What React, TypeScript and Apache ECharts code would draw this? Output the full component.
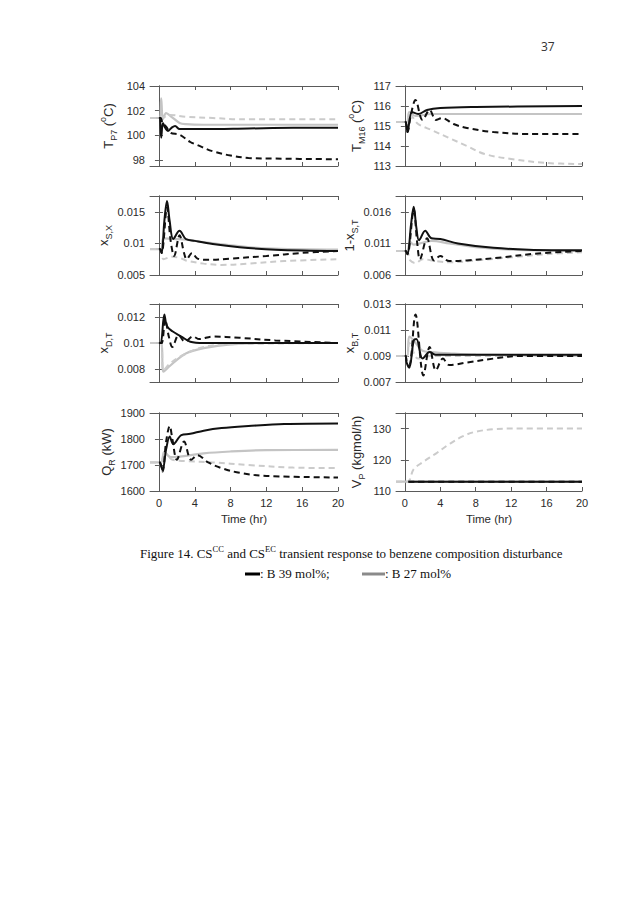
import React, { useEffect, useRef } from "react";
import * as echarts from "echarts";

type P = [number, number][];

const timeTicks = [0, 4, 8, 12, 16, 20];
const seriesNames = ["B 39 mol% (CC)", "B 39 mol% (EC)", "B 27 mol% (CC)", "B 27 mol% (EC)"];

// Panel 1: T_P7 (°C)
const tp7Ticks = [98, 100, 102, 104];
const tp7B39Solid: P = [[0,101.4],[0.1,101.4],[0.25,99.8],[0.45,101.0],[0.7,100.6],[1.0,100.35],[1.4,100.6],[1.8,100.75],[2.3,100.5],[3,100.5],[5,100.5],[10,100.55],[15,100.6],[20,100.6]];
const tp7B39Dashed: P = [[0,101.4],[0.2,101.4],[0.4,101.0],[0.8,100.7],[1.3,100.2],[2.3,100.05],[3.5,99.45],[4.3,99.2],[6,98.7],[8,98.35],[10,98.15],[13,98.1],[20,98.05]];
const tp7B27Solid: P = [[-1,101.4],[0.1,101.4],[0.25,103.0],[0.45,101.3],[0.8,101.8],[1.4,101.5],[2.3,101.0],[3,100.9],[5,100.85],[20,100.85]];
const tp7B27Dashed: P = [[-1,101.4],[0.3,101.4],[1.2,101.65],[3,101.5],[6,101.4],[9,101.3],[20,101.3]];

// Panel 2: x_S,X
const xsxTicks = [0.005, 0.01, 0.015];
const xsxB39Solid: P = [[0,0.0091],[0.1,0.0091],[0.3,0.0085],[0.6,0.0135],[0.9,0.0167],[1.2,0.0135],[1.6,0.0107],[2.3,0.012],[3,0.0107],[4,0.0104],[6,0.0099],[9,0.0094],[13,0.009],[20,0.0088]];
const xsxB39Dashed: P = [[0,0.0091],[0.1,0.0091],[0.3,0.0085],[0.9,0.0157],[1.3,0.0105],[1.7,0.008],[2.3,0.0113],[2.8,0.0085],[3.1,0.0075],[3.7,0.0085],[4.3,0.0076],[5.5,0.0074],[8,0.0076],[12,0.008],[16,0.0085],[20,0.0088]];
const xsxB27Solid: P = [[-1,0.0091],[0.2,0.0091],[0.5,0.0108],[1.5,0.0107],[3,0.0106],[5,0.0102],[8,0.0097],[12,0.0092],[20,0.009]];
const xsxB27Dashed: P = [[-1,0.0091],[0.2,0.0091],[0.5,0.0075],[1.5,0.0079],[2.5,0.0076],[3,0.0073],[5,0.0068],[7,0.0066],[10,0.0068],[14,0.0072],[20,0.0075]];

// Panel 3: x_D,T
const xdtTicks = [0.008, 0.01, 0.012];
const xdtB39Solid: P = [[0,0.01],[0.2,0.01],[0.6,0.0122],[0.9,0.0113],[1.5,0.0109],[2.5,0.0105],[3.5,0.0101],[5,0.01],[20,0.01]];
const xdtB39Dashed: P = [[0,0.01],[0.3,0.01],[0.7,0.0118],[1.1,0.0105],[1.5,0.0097],[2.2,0.0106],[2.9,0.0101],[3.8,0.0105],[4.5,0.0103],[6,0.0105],[9,0.0104],[13,0.0102],[20,0.01]];
const xdtB27Solid: P = [[-1,0.01],[0.2,0.01],[0.5,0.0078],[1,0.0081],[2,0.0087],[3,0.0092],[5,0.0096],[8,0.0099],[12,0.01],[20,0.01]];
const xdtB27Dashed: P = [[-1,0.01],[0.2,0.01],[0.5,0.0079],[1.2,0.0084],[2.5,0.009],[5,0.0097],[8,0.0099],[20,0.01]];

// Panel 4: Q_R (kW)
const qrTicks = [1600, 1700, 1800, 1900];
const qrB39Solid: P = [[0,1710],[0.1,1710],[0.4,1680],[0.8,1760],[1.2,1810],[1.6,1780],[2.5,1815],[3.5,1820],[5,1832],[7,1842],[10,1850],[14,1858],[20,1860]];
const qrB39Dashed: P = [[0,1710],[0.1,1710],[0.4,1675],[0.8,1790],[1.2,1850],[1.5,1800],[2,1720],[2.8,1790],[3.6,1720],[4.3,1738],[5.5,1710],[7,1688],[9,1670],[12,1658],[20,1652]];
const qrB27Solid: P = [[-1,1710],[0.2,1710],[0.6,1750],[1.3,1730],[3,1735],[5,1745],[8,1752],[12,1757],[20,1758]];
const qrB27Dashed: P = [[-1,1710],[0.2,1710],[0.6,1750],[1.5,1720],[3,1715],[6,1710],[10,1700],[15,1690],[20,1688]];

// Panel 5: T_M16 (°C)
const tm16Ticks = [113, 114, 115, 116, 117];
const tm16B39Solid: P = [[0,115.2],[0.1,115.2],[0.3,114.7],[0.8,115.7],[1.5,115.6],[2.5,115.8],[4,115.9],[8,115.95],[20,116.0]];
const tm16B39Dashed: P = [[0,115.2],[0.1,115.2],[0.3,114.7],[0.7,115.6],[1.2,116.3],[2,115.3],[2.8,115.8],[3.5,115.3],[4.2,115.4],[5.5,115.1],[7,114.9],[10,114.7],[14,114.6],[20,114.6]];
const tm16B27Solid: P = [[-1,115.2],[0.2,115.2],[0.5,115.7],[1.2,115.5],[3,115.6],[20,115.6]];
const tm16B27Dashed: P = [[-1,115.2],[0.2,115.2],[0.5,115.6],[1.5,115.1],[3,114.8],[5,114.4],[7,114.0],[9,113.6],[12,113.35],[16,113.15],[20,113.1]];

// Panel 6: 1-x_S,T
const xstTicks = [0.006, 0.011, 0.016];
const xstB39Solid: P = [[0,0.0098],[0.1,0.0098],[0.3,0.0093],[0.7,0.014],[1.0,0.0168],[1.3,0.0135],[1.6,0.0115],[2.3,0.013],[3,0.0118],[4,0.0117],[6,0.011],[10,0.0103],[14,0.01],[20,0.0099]];
const xstB39Dashed: P = [[0,0.0098],[0.1,0.0098],[0.3,0.0093],[1.0,0.0163],[1.4,0.011],[1.7,0.0085],[2.5,0.0118],[3.3,0.0083],[4,0.009],[5,0.0082],[7,0.0083],[11,0.0088],[15,0.0094],[20,0.0098]];
const xstB27Solid: P = [[-1,0.0098],[0.2,0.0098],[0.6,0.0112],[1,0.0108],[3,0.0114],[5,0.011],[8,0.0104],[12,0.01],[20,0.0098]];
const xstB27Dashed: P = [[-1,0.0098],[0.2,0.0098],[0.6,0.0083],[1.2,0.0079],[2,0.0085],[3.5,0.0082],[5,0.008],[8,0.0083],[12,0.0088],[16,0.0093],[20,0.0096]];

// Panel 7: x_B,T
const xbtTicks = [0.007, 0.009, 0.011, 0.013];
const xbtB39Solid: P = [[0,0.009],[0.1,0.009],[0.2,0.0085],[0.5,0.0081],[1.0,0.0102],[1.3,0.0103],[2,0.0088],[2.8,0.0093],[3.5,0.0091],[6,0.0091],[20,0.0091]];
const xbtB39Dashed: P = [[0,0.009],[0.1,0.009],[0.2,0.0086],[0.5,0.0083],[1.2,0.0122],[2.1,0.0075],[2.8,0.0097],[3.5,0.0079],[4.3,0.0088],[5,0.0083],[7,0.0085],[10,0.0088],[13,0.009],[20,0.009]];
const xbtB27Solid: P = [[-1,0.009],[0.2,0.009],[0.5,0.0105],[1,0.0102],[2,0.0094],[3,0.0093],[5,0.0092],[8,0.0091],[20,0.009]];
const xbtB27Dashed: P = [[-1,0.009],[0.2,0.009],[0.5,0.01],[1.5,0.0088],[3,0.009],[20,0.009]];

// Panel 8: V_P (kgmol/h)
const vpTicks = [110, 120, 130];
const vpB39Solid: P = [[0.4,113],[20,113]];
const vpB39Dashed: P = [[0.4,113],[20,113]];
const vpB27Solid: P = [[-1,113],[20,113]];
const vpB27Dashed: P = [[-1,113],[0.3,113],[1,117],[2,119.2],[3.5,122],[5,125],[6.5,127.5],[8,129],[10,129.8],[12,130],[20,130]];

const SANS = "'Liberation Sans', Arial, sans-serif";
const SERIF = "'Liberation Serif', 'Times New Roman', serif";
const AXIS_COLOR = "#5a5a5a";
const TEXT_COLOR = "#2a2a2a";

const panels = [
  { col: 0, row: 0, name: "{m|T}{s|P7}{m| (}{p|o}{m|C)}", min: 97.5, max: 104, ticks: tp7Ticks, data: [tp7B39Solid, tp7B39Dashed, tp7B27Solid, tp7B27Dashed] },
  { col: 0, row: 1, name: "{m|x}{s|S,X}", min: 0.005, max: 0.0175, ticks: xsxTicks, data: [xsxB39Solid, xsxB39Dashed, xsxB27Solid, xsxB27Dashed] },
  { col: 0, row: 2, name: "{m|x}{s|D,T}", min: 0.007, max: 0.013, ticks: xdtTicks, data: [xdtB39Solid, xdtB39Dashed, xdtB27Solid, xdtB27Dashed] },
  { col: 0, row: 3, name: "{m|Q}{s|R}{m| (kW)}", min: 1600, max: 1900, ticks: qrTicks, data: [qrB39Solid, qrB39Dashed, qrB27Solid, qrB27Dashed] },
  { col: 1, row: 0, name: "{m|T}{s|M16}{m| (}{p|o}{m|C)}", min: 113, max: 117, ticks: tm16Ticks, data: [tm16B39Solid, tm16B39Dashed, tm16B27Solid, tm16B27Dashed] },
  { col: 1, row: 1, name: "{m|1-x}{s|S,T}", min: 0.006, max: 0.0185, ticks: xstTicks, data: [xstB39Solid, xstB39Dashed, xstB27Solid, xstB27Dashed] },
  { col: 1, row: 2, name: "{m|x}{s|B,T}", min: 0.007, max: 0.013, ticks: xbtTicks, data: [xbtB39Solid, xbtB39Dashed, xbtB27Solid, xbtB27Dashed] },
  { col: 1, row: 3, name: "{m|V}{s|P}{m| (kgmol/h)}", min: 110, max: 135, ticks: vpTicks, data: [vpB39Solid, vpB39Dashed, vpB27Solid, vpB27Dashed] },
];

const colLeft = [150, 396];
const colWidth = [188, 186];
const rowTop = [86, 196, 304, 413];
const rowHeight = [80, 79, 78, 78];

const lineStyles = [
  { color: "#111111", width: 2, type: "solid" },
  { color: "#111111", width: 2, type: [6, 4] },
  { color: "#c4c4c4", width: 2.2, type: "solid" },
  { color: "#cbcbcb", width: 2, type: [6, 4] },
];
const drawOrder = [2, 3, 0, 1];

const fmt = (v: number) => String(+v.toFixed(4));

function buildOption() {
  const grid: any[] = [];
  const xAxis: any[] = [];
  const yAxis: any[] = [];
  const series: any[] = [];
  const nameRich = {
    m: { fontSize: 13, lineHeight: 20, fontFamily: SANS, color: TEXT_COLOR },
    s: { fontSize: 9, lineHeight: 9, verticalAlign: "bottom", fontFamily: SANS, color: TEXT_COLOR },
    p: { fontSize: 9, lineHeight: 9, verticalAlign: "top", fontFamily: SANS, color: TEXT_COLOR },
  };
  panels.forEach((pn, i) => {
    grid.push({ left: colLeft[pn.col], top: rowTop[pn.row], width: colWidth[pn.col], height: rowHeight[pn.row], containLabel: false });
    const bottomRow = pn.row === 3;
    const tickCommon = { show: true, inside: true, length: 4, lineStyle: { color: AXIS_COLOR, width: 1 } };
    xAxis.push({
      type: "value", gridIndex: i, min: -1, max: 20, position: "bottom",
      axisLine: { show: true, lineStyle: { color: AXIS_COLOR, width: 1 } },
      axisTick: { ...tickCommon, customValues: timeTicks },
      axisLabel: { show: bottomRow, customValues: timeTicks, color: TEXT_COLOR, fontFamily: SANS, fontSize: 11, margin: 6 },
      splitLine: { show: false },
      name: bottomRow ? "Time (hr)" : "",
      nameLocation: "middle", nameGap: 22,
      nameTextStyle: { color: TEXT_COLOR, fontFamily: SANS, fontSize: 11.5 },
    });
    xAxis.push({
      type: "value", gridIndex: i, min: -1, max: 20, position: "top",
      axisLine: { show: true, lineStyle: { color: AXIS_COLOR, width: 1 } },
      axisTick: { ...tickCommon, customValues: timeTicks },
      axisLabel: { show: false },
      splitLine: { show: false },
    });
    yAxis.push({
      type: "value", gridIndex: i, min: pn.min, max: pn.max, position: "left",
      axisLine: { show: true, lineStyle: { color: AXIS_COLOR, width: 1 } },
      axisTick: { ...tickCommon, customValues: pn.ticks },
      axisLabel: { show: true, customValues: pn.ticks, formatter: fmt, color: TEXT_COLOR, fontFamily: SANS, fontSize: 11, margin: 5 },
      splitLine: { show: false },
      name: pn.name, nameLocation: "middle", nameRotate: 90, nameGap: pn.col === 0 ? 32 : 30,
      nameTextStyle: { rich: nameRich },
    });
    yAxis.push({
      type: "value", gridIndex: i, min: pn.min, max: pn.max, position: "right",
      axisLine: { show: true, lineStyle: { color: AXIS_COLOR, width: 1 } },
      axisTick: { ...tickCommon, customValues: pn.ticks },
      axisLabel: { show: false },
      splitLine: { show: false },
    });
    drawOrder.forEach((k) => {
      series.push({
        type: "line", name: seriesNames[k], xAxisIndex: 2 * i, yAxisIndex: 2 * i,
        data: pn.data[k], showSymbol: false, symbol: "none", smooth: 0.35,
        lineStyle: lineStyles[k], silent: true,
      });
    });
  });

  const graphic: any[] = [
    { type: "text", left: 541, top: 40, style: { text: "37", font: "12px 'Open Sans', sans-serif", fill: "#333" } },
    {
      type: "text", left: 140, top: 544,
      style: {
        text: "{r|Figure 14. CS}{u|CC}{r| and CS}{u|EC}{r| transient response to benzene composition disturbance}",
        rich: {
          r: { font: `13px ${SERIF}`, fill: "#111", lineHeight: 18 },
          u: { font: `8.5px ${SERIF}`, fill: "#111", lineHeight: 9, verticalAlign: "top" },
        },
      },
    },
    { type: "line", shape: { x1: 245, y1: 574, x2: 260, y2: 574 }, style: { stroke: "#000", lineWidth: 3 } },
    { type: "text", left: 260, top: 567, style: { text: ": B 39 mol%;", font: `13px ${SERIF}`, fill: "#111" } },
    { type: "line", shape: { x1: 362, y1: 574, x2: 385, y2: 574 }, style: { stroke: "#8a8a8a", lineWidth: 3 } },
    { type: "text", left: 385, top: 567, style: { text: ": B 27 mol%", font: `13px ${SERIF}`, fill: "#111" } },
  ];

  return { animation: false, backgroundColor: "#ffffff", grid, xAxis, yAxis, series, graphic };
}

export default function App() {
  const ref = useRef<HTMLDivElement>(null);
  useEffect(() => {
    if (!ref.current) return;
    const chart = echarts.init(ref.current, undefined, { renderer: "svg" });
    chart.setOption(buildOption() as any);
    return () => chart.dispose();
  }, []);
  return <div ref={ref} style={{ position: "absolute", left: 0, top: 0, width: 638, height: 903, background: "#fff" }} />;
}
